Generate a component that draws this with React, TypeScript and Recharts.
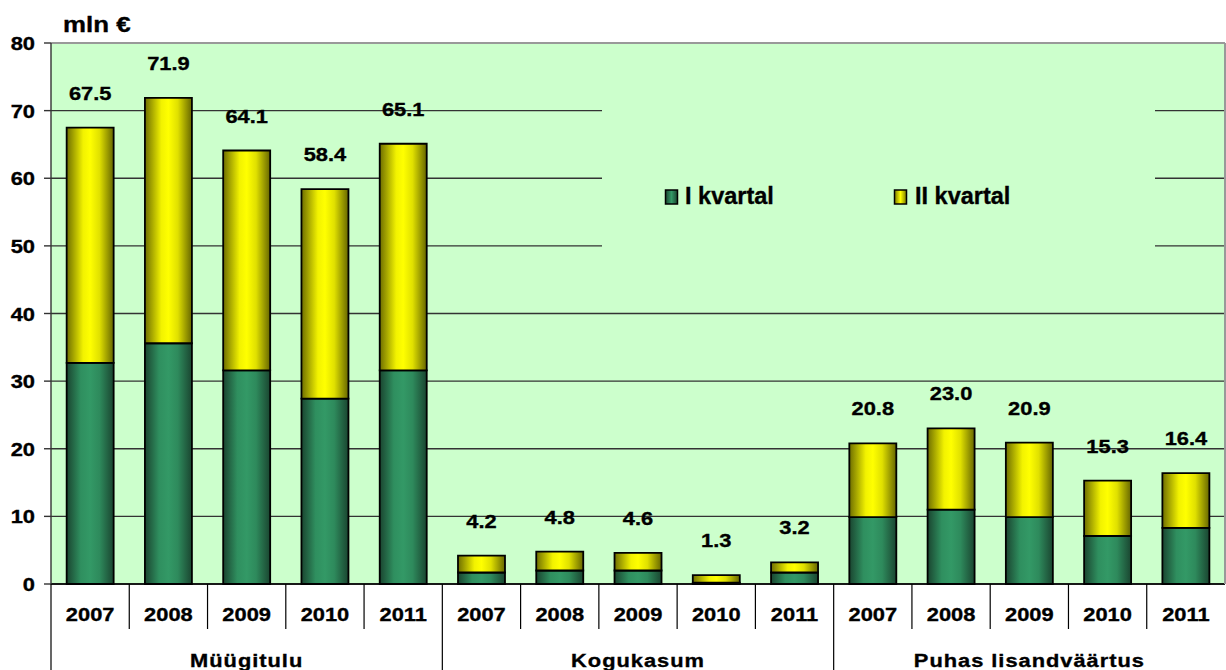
import React from 'react';
import { BarChart, Bar, XAxis, YAxis, CartesianGrid, Legend, LabelList, ReferenceLine } from 'recharts';

const groups = ['Müügitulu', 'Kogukasum', 'Puhas lisandväärtus'];
const years = ['2007', '2008', '2009', '2010', '2011'];
const seriesNames = ['I kvartal', 'II kvartal'];
const q1 = [32.7, 35.6, 31.6, 27.4, 31.6, 1.7, 2.0, 2.0, 0.2, 1.7, 9.9, 11.0, 9.9, 7.1, 8.3];
const q2 = [34.8, 36.3, 32.5, 31.0, 33.5, 2.5, 2.8, 2.6, 1.1, 1.5, 10.9, 12.0, 11.0, 8.2, 8.1];
const totals = [67.5, 71.9, 64.1, 58.4, 65.1, 4.2, 4.8, 4.6, 1.3, 3.2, 20.8, 23.0, 20.9, 15.3, 16.4];
const yTicks = [0, 10, 20, 30, 40, 50, 60, 70, 80];
const unitLabel = 'mln €';

const data = q1.map((v, i) => ({
  key: i,
  year: years[i % 5],
  group: groups[Math.floor(i / 5)],
  q1: v,
  q2: q2[i],
  total: totals[i],
}));

const W = 1226;
const H = 670;
const PLOT_LEFT = 51;
const PLOT_RIGHT = 1225;
const PLOT_BOTTOM = 584;
const BAND = (PLOT_RIGHT - PLOT_LEFT) / data.length;
const FONT = '"Liberation Sans", Arial, Helvetica, sans-serif';
const SX = 1.15;

function SText(props: any) {
  const { x, y, children, anchor = 'middle', size = 19, spacing = 0 } = props;
  return (
    <text
      transform={`translate(${x} ${y}) scale(${SX} 1)`}
      textAnchor={anchor}
      fontFamily={FONT}
      fontWeight="bold"
      fontSize={size}
      fill="#000"
      stroke="#000"
      strokeWidth={0.35}
      letterSpacing={spacing}
    >
      {children}
    </text>
  );
}

function YTick(props: any) {
  const { x, y, payload } = props;
  return <SText x={x} y={y + 7} anchor="end">{payload.value}</SText>;
}

function XTick(props: any) {
  const { x, index, payload } = props;
  const i = typeof index === 'number' ? index : Number(payload.value);
  const left = x - BAND / 2;
  return (
    <g>
      <line x1={left} x2={left} y1={PLOT_BOTTOM} y2={i % 5 === 0 ? H : 629} stroke="#000" strokeWidth={1.2} />
      <SText x={x} y={621}>{years[i % 5]}</SText>
      {i % 5 === 2 && (
        <SText x={x} y={667} spacing={0.85}>{groups[Math.floor(i / 5)]}</SText>
      )}
    </g>
  );
}

function ValueLabel(props: any) {
  const vb = props.viewBox || {};
  const x = props.x ?? vb.x;
  const y = props.y ?? vb.y;
  const width = props.width ?? vb.width;
  const v = Number(props.value);
  return <SText x={x + width / 2} y={y - 28}>{v.toFixed(1)}</SText>;
}

function LegendContent() {
  return (
    <div style={{ width: 553, height: 195, background: '#CCFFCC' }}>
      <svg width={553} height={195} style={{ display: 'block' }}>
        <defs>
          <linearGradient id="lgGreen" x1="0" y1="0" x2="1" y2="0">
            <stop offset="0%" stopColor="#1a4530" />
            <stop offset="50%" stopColor="#339966" />
            <stop offset="100%" stopColor="#1a4530" />
          </linearGradient>
          <linearGradient id="lgYellow" x1="0" y1="0" x2="1" y2="0">
            <stop offset="0%" stopColor="#7a7a00" />
            <stop offset="50%" stopColor="#ffff00" />
            <stop offset="100%" stopColor="#7a7a00" />
          </linearGradient>
        </defs>
        <rect x={63.5} y={95} width={12} height={14} fill="url(#lgGreen)" stroke="#000" strokeWidth={1.5} />
        <text x={83} y={109} fontFamily={FONT} fontWeight="bold" fontSize={23.5} fill="#000" stroke="#000" strokeWidth={0.35}>{seriesNames[0]}</text>
        <rect x={292.5} y={95} width={12} height={14} fill="url(#lgYellow)" stroke="#000" strokeWidth={1.5} />
        <text x={313} y={109} fontFamily={FONT} fontWeight="bold" fontSize={23.5} fill="#000" stroke="#000" strokeWidth={0.35}>{seriesNames[1]}</text>
      </svg>
    </div>
  );
}

export default function App() {
  return (
    <div style={{ position: 'absolute', left: 0, top: 0, width: W, height: H, background: '#fff' }}>
      <BarChart
        width={W}
        height={H}
        data={data}
        margin={{ top: 43, right: 0, bottom: 0, left: 0 }}
        barCategoryGap="20%"
      >
        <defs>
          <linearGradient id="gGreen" x1="0" y1="0" x2="1" y2="0">
            <stop offset="0%" stopColor="#1a4530" />
            <stop offset="30%" stopColor="#2f8f5f" />
            <stop offset="50%" stopColor="#339966" />
            <stop offset="70%" stopColor="#2e8a5c" />
            <stop offset="100%" stopColor="#1a4530" />
          </linearGradient>
          <linearGradient id="gYellow" x1="0" y1="0" x2="1" y2="0">
            <stop offset="0%" stopColor="#6e6e00" />
            <stop offset="35%" stopColor="#f2f200" />
            <stop offset="50%" stopColor="#ffff00" />
            <stop offset="70%" stopColor="#e0e000" />
            <stop offset="100%" stopColor="#666600" />
          </linearGradient>
        </defs>
        <CartesianGrid vertical={false} stroke="#333" strokeWidth={1.4} fill="#CCFFCC" />
        <XAxis
          dataKey="key"
          type="category"
          interval={0}
          height={86}
          tickLine={false}
          axisLine={{ stroke: '#000', strokeWidth: 1.5 }}
          tick={<XTick />}
        />
        <YAxis
          width={51}
          domain={[0, 80]}
          ticks={yTicks}
          interval={0}
          tickSize={7}
          tickMargin={9}
          axisLine={{ stroke: '#333', strokeWidth: 1.4 }}
          tickLine={{ stroke: '#333', strokeWidth: 1.4 }}
          tick={<YTick />}
        />
        <YAxis
          yAxisId="right"
          orientation="right"
          width={1}
          domain={[0, 80]}
          tick={false}
          tickLine={false}
          axisLine={{ stroke: '#999', strokeWidth: 2 }}
        />
        <ReferenceLine y={80} stroke="#999" strokeWidth={2} />
        <Legend
          verticalAlign="middle"
          layout="horizontal"
          wrapperStyle={{ left: 602, top: 95, width: 553, height: 195 }}
          content={<LegendContent />}
        />
        <Bar
          dataKey="q1"
          name={seriesNames[0]}
          stackId="s"
          fill="url(#gGreen)"
          stroke="#000"
          strokeWidth={1.8}
          isAnimationActive={false}
        />
        <Bar
          dataKey="q2"
          name={seriesNames[1]}
          stackId="s"
          fill="url(#gYellow)"
          stroke="#000"
          strokeWidth={1.8}
          isAnimationActive={false}
        >
          <LabelList dataKey="total" content={<ValueLabel />} />
        </Bar>
      </BarChart>
      <svg width={200} height={40} style={{ position: 'absolute', left: 0, top: 0 }}>
        <SText x={63} y={32} anchor="start" size={22.5}>{unitLabel}</SText>
      </svg>
    </div>
  );
}
